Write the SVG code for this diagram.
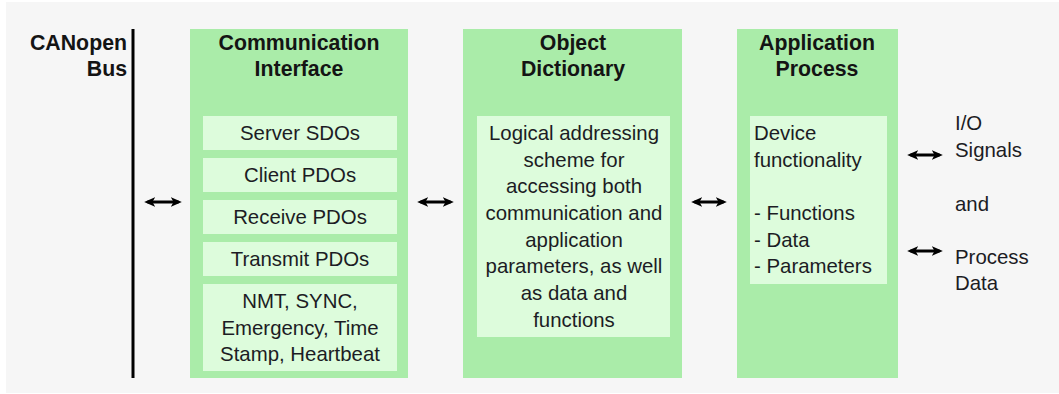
<svg xmlns="http://www.w3.org/2000/svg" width="1059" height="394" viewBox="0 0 1059 394">
  <style>
    .panel { fill: #aaeca9; }
    .cell { fill: #ddfcdc; }
    .title { font-family: "Liberation Sans", Arial, sans-serif; font-size: 21.3px; font-weight: bold; fill: #141414; }
    .txt { font-family: "Liberation Sans", Arial, sans-serif; font-size: 20.4px; fill: #1c1c24; }
    .mid { text-anchor: middle; }
    .end { text-anchor: end; }
    .link { stroke: #000; stroke-width: 3; fill: none; marker-start: url(#head); marker-end: url(#head); }
  </style>
  <defs>
    <marker id="head" viewBox="0 0 10 10" refX="7" refY="5" markerWidth="11" markerHeight="11" markerUnits="userSpaceOnUse" orient="auto-start-reverse">
      <path d="M0,0.5 L10,5 L0,9.5 L2.5,5 Z" fill="#000"/>
    </marker>
  </defs>

  <!-- page background -->
  <rect x="6" y="2" width="1053" height="391" fill="#f6f6f6"/>

  <!-- bus -->
  <g id="bus">
    <line x1="133" y1="29" x2="133" y2="378" stroke="#000" stroke-width="3"/>
    <text class="title end" x="127" y="50">CANopen</text>
    <text class="title end" x="127" y="76">Bus</text>
  </g>

  <!-- communication interface -->
  <g id="comm">
    <rect class="panel" x="190" y="29" width="218" height="349"/>
    <text class="title mid" x="299" y="50">Communication</text>
    <text class="title mid" x="299" y="76">Interface</text>
    <rect class="cell" x="203" y="116" width="194" height="34"/>
    <text class="txt mid" x="300" y="140">Server SDOs</text>
    <rect class="cell" x="203" y="158" width="194" height="34"/>
    <text class="txt mid" x="300" y="182">Client PDOs</text>
    <rect class="cell" x="203" y="200" width="194" height="34"/>
    <text class="txt mid" x="300" y="224">Receive PDOs</text>
    <rect class="cell" x="203" y="242" width="194" height="34"/>
    <text class="txt mid" x="300" y="266">Transmit PDOs</text>
    <rect class="cell" x="203" y="284" width="194" height="87"/>
    <text class="txt mid" x="300" y="308">NMT, SYNC,</text>
    <text class="txt mid" x="300" y="334.5">Emergency, Time</text>
    <text class="txt mid" x="300" y="361">Stamp, Heartbeat</text>
  </g>

  <!-- object dictionary -->
  <g id="dict">
    <rect class="panel" x="463" y="29" width="219" height="349"/>
    <text class="title mid" x="573" y="50">Object</text>
    <text class="title mid" x="573" y="76">Dictionary</text>
    <rect class="cell" x="477" y="116" width="193" height="221"/>
    <text class="txt mid" x="574" y="140">Logical addressing</text>
    <text class="txt mid" x="574" y="167">scheme for</text>
    <text class="txt mid" x="574" y="193">accessing both</text>
    <text class="txt mid" x="574" y="220">communication and</text>
    <text class="txt mid" x="574" y="247">application</text>
    <text class="txt mid" x="574" y="273">parameters, as well</text>
    <text class="txt mid" x="574" y="300">as data and</text>
    <text class="txt mid" x="574" y="327">functions</text>
  </g>

  <!-- application process -->
  <g id="app">
    <rect class="panel" x="737" y="29" width="161" height="349"/>
    <text class="title mid" x="817" y="50">Application</text>
    <text class="title mid" x="817" y="76">Process</text>
    <rect class="cell" x="750" y="116" width="137" height="168"/>
    <text class="txt" x="754" y="140">Device</text>
    <text class="txt" x="754" y="167">functionality</text>
    <text class="txt" x="754" y="220">- Functions</text>
    <text class="txt" x="754" y="247">- Data</text>
    <text class="txt" x="754" y="273">- Parameters</text>
  </g>

  <!-- outside signals -->
  <g id="io">
    <text class="txt" x="955" y="130">I/O</text>
    <text class="txt" x="955" y="157">Signals</text>
    <text class="txt" x="955" y="211">and</text>
    <text class="txt" x="955" y="264">Process</text>
    <text class="txt" x="955" y="290">Data</text>
  </g>

  <!-- connectors -->
  <g id="connectors">
    <line class="link" x1="147.5" y1="202" x2="178.5" y2="202"/>
    <line class="link" x1="420.5" y1="202" x2="450.5" y2="202"/>
    <line class="link" x1="694.5" y1="202" x2="723.5" y2="202"/>
    <line class="link" x1="910.5" y1="155" x2="939.5" y2="155"/>
    <line class="link" x1="910.5" y1="251" x2="939.5" y2="251"/>
  </g>
</svg>
